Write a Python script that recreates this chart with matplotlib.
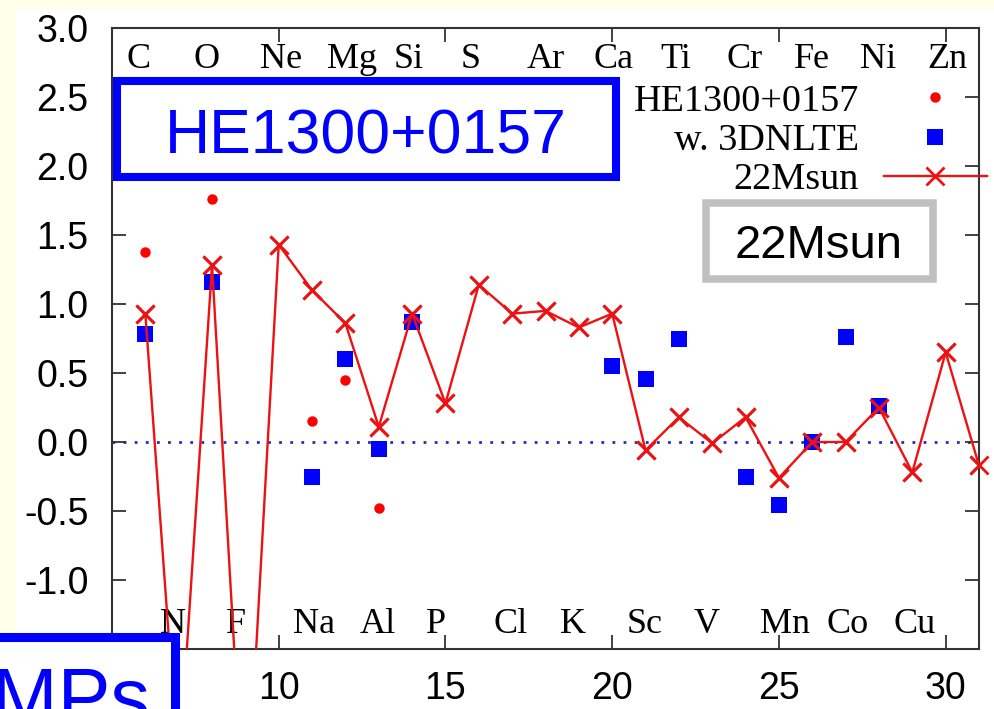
import numpy as np
import matplotlib.pyplot as plt
from matplotlib.patches import Rectangle

plt.rcParams['axes.unicode_minus'] = False

# observed abundances (red dots) and with 3D NLTE corrections (blue squares)
star_z = [6, 8, 11, 12, 13]
star_val = [1.38, 1.76, 0.15, 0.45, -0.48]

nlte_z = [6, 8, 11, 12, 13, 14, 20, 21, 22, 24, 25, 26, 27, 28]
nlte_val = [0.78, 1.16, -0.25, 0.60, -0.05, 0.87, 0.55, 0.46, 0.75,
            -0.25, -0.46, 0.00, 0.76, 0.26]

# 22 Msun model yields
model_z = list(range(6, 32))
model_val = [0.93, -2.40, 1.28, -2.90, 1.43, 1.10, 0.86, 0.11, 0.93, 0.28,
             1.14, 0.93, 0.95, 0.83, 0.93, -0.06, 0.18, -0.01, 0.18, -0.26,
             0.00, 0.00, 0.25, -0.22, 0.65, -0.17]

even_z = [6, 8, 10, 12, 14, 16, 18, 20, 22, 24, 26, 28, 30]
even_el = ['C', 'O', 'Ne', 'Mg', 'Si', 'S', 'Ar', 'Ca', 'Ti', 'Cr', 'Fe', 'Ni', 'Zn']
odd_z = [7, 9, 11, 13, 15, 17, 19, 21, 23, 25, 27, 29]
odd_el = ['N', 'F', 'Na', 'Al', 'P', 'Cl', 'K', 'Sc', 'V', 'Mn', 'Co', 'Cu']

W, H = 994, 709
fig = plt.figure(figsize=(W / 100, H / 100), dpi=100, facecolor='#fefee9')
fig.patches.append(Rectangle((16 / W, 0), 1, 1 - 9 / H, transform=fig.transFigure,
                             facecolor='white', edgecolor='none', zorder=-10))

ax = fig.add_axes([112 / W, 1 - 649 / H, (979 - 112) / W, (649 - 28) / H])
ax.set_xlim(5, 31)
ax.set_ylim(-1.5, 3.0)
ax.set_xticks([10, 15, 20, 25, 30])
ax.set_yticks(np.arange(-1.0, 3.01, 0.5))
ax.yaxis.set_major_formatter('{x:.1f}')
for s in ax.spines.values():
    s.set_linewidth(1.5)
    s.set_color('#333333')
ax.tick_params(direction='in', top=True, right=True, length=10, width=1.3,
               color='#333333', labelsize=27)
ax.tick_params(axis='y', pad=17)
ax.tick_params(axis='x', pad=16)
for lab in ax.get_xticklabels() + ax.get_yticklabels():
    lab.set_family('Liberation Sans')

ax.axhline(0, color='#2a2ab0', lw=2, ls=(0, (1, 3)), zorder=1)

h1, = ax.plot(star_z, star_val, 'o', color='#ff0000', ms=7.5, mew=0, zorder=2)
h2, = ax.plot(nlte_z, nlte_val, 's', color='#0000ff', ms=11, mew=0, zorder=3)
h3, = ax.plot(model_z, model_val, '-x', color='#ee1111', lw=1.7, ms=13, mew=2, zorder=4)
ax.plot(model_z, model_val, 'x', color='#ee1111', ms=13, mew=2, zorder=4, clip_on=False)

serif = 'Liberation Serif'
for z, el in zip(even_z, even_el):
    ax.text(z - 0.56, 2.71, el, family=serif, fontsize=26, ha='left', va='baseline')
for z, el in zip(odd_z, odd_el):
    ax.text(z - 0.57, -1.384, el, family=serif, fontsize=26, ha='left', va='baseline')

ax.legend([h1, h2, h3], ['HE1300+0157', 'w. 3DNLTE', '22Msun'],
          loc='upper right', bbox_to_anchor=(987 / W, 1 - 84 / H),
          bbox_transform=fig.transFigure, frameon=False, markerfirst=False,
          prop={'family': serif, 'size': 27.5}, handlelength=2.7,
          handletextpad=0.65, labelspacing=0.12, borderpad=0,
          borderaxespad=0, numpoints=1)

# annotation boxes drawn on top of the figure
blue = '#0000ff'
fig.patches.append(Rectangle((116.5 / W, 1 - 176.5 / H), (615.5 - 116.5) / W,
                             (176.5 - 81) / H, transform=fig.transFigure,
                             facecolor='white', edgecolor=blue, lw=5.8, zorder=10))
fig.text(366 / W, 1 - 153 / H, 'HE1300+0157', color=blue, fontsize=45,
         family='Liberation Sans', ha='center', va='baseline', zorder=11)

fig.patches.append(Rectangle((705.5 / W, 1 - 279 / H), (932.5 - 705.5) / W,
                             (279 - 203) / H, transform=fig.transFigure,
                             facecolor='white', edgecolor='#c0c0c0', lw=5.4, zorder=10))
fig.text(819 / W, 1 - 258 / H, '22Msun', color='black', fontsize=34,
         family='Liberation Sans', ha='center', va='baseline', zorder=11)

fig.patches.append(Rectangle((-30 / W, -30 / H), (174.5 + 30) / W, (709 - 637 + 30) / H,
                             transform=fig.transFigure, facecolor='white',
                             edgecolor=blue, lw=6.5, zorder=10))
fig.text(150 / W, -15 / H, 'EMPs', color=blue, fontsize=57,
         family='Liberation Sans', ha='right', va='baseline', zorder=11)

fig.savefig('out.png', dpi=100, facecolor=fig.get_facecolor())
